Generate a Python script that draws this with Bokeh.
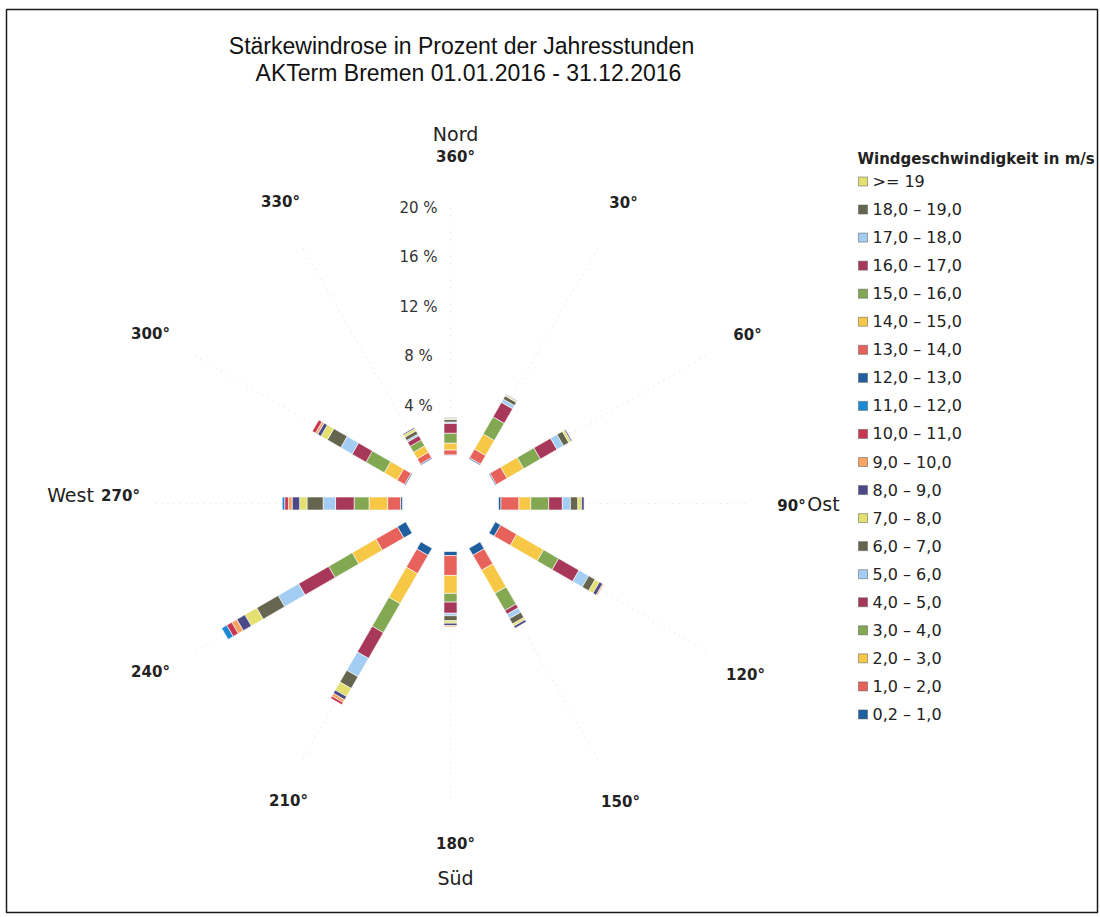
import math
from bokeh.plotting import figure
from bokeh.models import Range1d, ColumnDataSource
from bokeh.core.properties import value
from bokeh.embed import file_html
from bokeh.resources import INLINE

# ---------------- data ----------------
directions = [0, 30, 60, 90, 120, 150, 180, 210, 240, 270, 300, 330]
classes = ["0,2 – 1,0", "1,0 – 2,0", "2,0 – 3,0", "3,0 – 4,0", "4,0 – 5,0",
           "5,0 – 6,0", "6,0 – 7,0", "7,0 – 8,0", "8,0 – 9,0", "9,0 – 10,0",
           "10,0 – 11,0", "11,0 – 12,0", "12,0 – 13,0", "13,0 – 14,0", "14,0 – 15,0",
           "15,0 – 16,0", "16,0 – 17,0", "17,0 – 18,0", "18,0 – 19,0", ">= 19"]
colors = ["#1f5fa0", "#e8625c", "#f7c846", "#82a852", "#a8385a",
          "#a3cdf2", "#66654f", "#e3e070", "#4b4a86", "#f6a565",
          "#c9364f", "#1c89d4", "#1f5fa0", "#e8625c", "#f7c846",
          "#82a852", "#a8385a", "#a3cdf2", "#66654f", "#e3e070"]

# percent of year hours per direction, per speed class (inner -> outer)
d000 = [0.05, 0.40, 0.55, 0.80, 0.80, 0.10, 0.20, 0.10, 0.05]
d030 = [0.10, 0.80, 1.40, 1.60, 1.35, 0.30, 0.30, 0.10, 0.05]
d060 = [0.10, 1.00, 1.55, 1.55, 1.55, 0.60, 0.50, 0.20, 0.10]
d090 = [0.20, 1.45, 0.95, 1.45, 1.10, 0.65, 0.60, 0.30, 0.20]
d120 = [0.50, 1.50, 2.50, 1.40, 1.90, 0.90, 0.60, 0.40, 0.30, 0.10]
d150 = [0.65, 1.40, 2.15, 1.60, 0.35, 0.40, 0.50, 0.20, 0.20]
d180 = [0.33, 1.60, 1.45, 0.70, 0.90, 0.20, 0.40, 0.20, 0.20, 0.10]
d210 = [0.66, 1.70, 2.80, 2.70, 2.40, 1.70, 1.10, 0.75, 0.30, 0.25, 0.20]
d240 = [0.78, 2.00, 2.20, 2.20, 2.80, 1.90, 2.00, 1.10, 0.75, 0.47, 0.47, 0.47]
d270 = [0.15, 1.05, 1.50, 1.20, 1.50, 1.00, 1.30, 0.60, 0.60, 0.30, 0.30, 0.20]
d300 = [0.10, 0.70, 1.20, 1.70, 1.30, 1.05, 1.25, 0.60, 0.30, 0.20, 0.30]
d330 = [0.10, 0.50, 0.60, 0.55, 0.40, 0.15, 0.30, 0.20, 0.10]
series = [d000, d030, d060, d090, d120, d150, d180, d210, d240, d270, d300, d330]

ring_values = [4, 8, 12, 16, 20]
ring_labels = ["4 %", "8 %", "12 %", "16 %", "20 %"]

# ---------------- layout (pixel-like data space) ----------------
W, H = 1100, 917
def X(sx):
    return sx
def Y(sy):
    return H - sy

CX, CY = X(450), Y(503)
R0 = 48.0          # inner hole radius
K = 12.4           # pixels per percent
BAR_W = 13

p = figure(width=W, height=H, x_range=Range1d(0, W), y_range=Range1d(0, H),
           output_backend="svg", toolbar_location=None,
           x_axis_location=None, y_axis_location=None,
           min_border=0, min_border_left=0, min_border_right=0,
           min_border_top=0, min_border_bottom=0)
p.grid.visible = False
p.outline_line_color = None
p.background_fill_color = "white"
p.border_fill_color = "white"

# page frame
p.quad(left=[X(6)], right=[X(1097)], top=[Y(9)], bottom=[Y(912)],
       fill_color=None, line_color="#1a1a1a", line_width=1.5)

# faint radial guide lines
gx0, gy0, gx1, gy1 = [], [], [], []
for d in directions:
    t = math.radians(d)
    gx0.append(CX + R0 * math.sin(t)); gy0.append(CY + R0 * math.cos(t))
    r = R0 + K * 20
    gx1.append(CX + r * math.sin(t)); gy1.append(CY + r * math.cos(t))
p.segment(gx0, gy0, gx1, gy1, line_color="#ead9de", line_dash="1 5", line_width=1)

# stacked bars
xs, ys, lens, angs, cols = [], [], [], [], []
for d, vals in zip(directions, series):
    t = math.radians(d)
    cum = 0.0
    for k, v in enumerate(vals):
        if v <= 0:
            continue
        r0 = R0 + K * cum
        r1 = R0 + K * (cum + v)
        rm = (r0 + r1) / 2
        xs.append(CX + rm * math.sin(t))
        ys.append(CY + rm * math.cos(t))
        lens.append(r1 - r0)
        angs.append(math.radians(90 - d))
        cols.append(colors[k])
        cum += v
src = ColumnDataSource(dict(x=xs, y=ys, w=lens, a=angs, c=cols))
p.rect(x="x", y="y", width="w", height=BAR_W, angle="a", fill_color="c",
       line_color="white", line_width=0.6, source=src)

FONT = value("DejaVu Sans")

# ring labels
rl_y = [CY + R0 + K * v for v in ring_values]
p.text(x=[X(418)] * len(ring_values), y=rl_y, text=ring_labels,
       text_align="center", text_baseline="middle", text_font=FONT,
       text_font_size="15px", text_color="#333333")

# title
p.text(x=[X(461), X(468)], y=[Y(45), Y(72)],
       text=["Stärkewindrose in Prozent der Jahresstunden",
             "AKTerm Bremen 01.01.2016 - 31.12.2016"],
       text_align="center", text_baseline="middle",
       text_font=value("Liberation Sans"), text_font_size="23px", text_color="#111111")

# direction labels (degree numbers)
deg_txt = ["360°", "30°", "60°", "120°", "150°", "180°", "210°", "240°", "300°", "330°"]
deg_x = [455, 623, 747, 745, 620, 455, 288, 150, 150, 280]
deg_y = [156, 202, 334, 674, 801, 843, 800, 671, 333, 201]
p.text(x=[X(v) for v in deg_x], y=[Y(v) for v in deg_y], text=deg_txt,
       text_align="center", text_baseline="middle", text_font=FONT,
       text_font_style="bold", text_font_size="15px", text_color="#222222")
p.text(x=[X(791), X(120)], y=[Y(505), Y(495)], text=["90°", "270°"],
       text_align="center", text_baseline="middle", text_font=FONT,
       text_font_style="bold", text_font_size="15px", text_color="#222222")
p.text(x=[X(455), X(455), X(823), X(70)], y=[Y(133), Y(877), Y(503), Y(494)],
       text=["Nord", "Süd", "Ost", "West"],
       text_align="center", text_baseline="middle", text_font=FONT,
       text_font_size="19px", text_color="#222222")

# legend
p.text(x=[X(857)], y=[Y(158)], text=["Windgeschwindigkeit in m/s"],
       text_align="left", text_baseline="middle", text_font=FONT,
       text_font_style="bold", text_font_size="15px", text_color="#222222")
leg_labels = classes[::-1]
leg_cols = colors[::-1]
leg_y = [Y(181 + 28.05 * i) for i in range(len(leg_labels))]
p.scatter(x=[X(862.5)] * len(leg_labels), y=leg_y, marker="square", size=9,
          fill_color=leg_cols, line_color="#555555", line_width=0.5)
p.text(x=[X(872)] * len(leg_labels), y=leg_y, text=leg_labels,
       text_align="left", text_baseline="middle", text_font=FONT,
       text_font_size="16px", text_color="#222222")

open("out.html", "w").write(file_html(p, INLINE))
